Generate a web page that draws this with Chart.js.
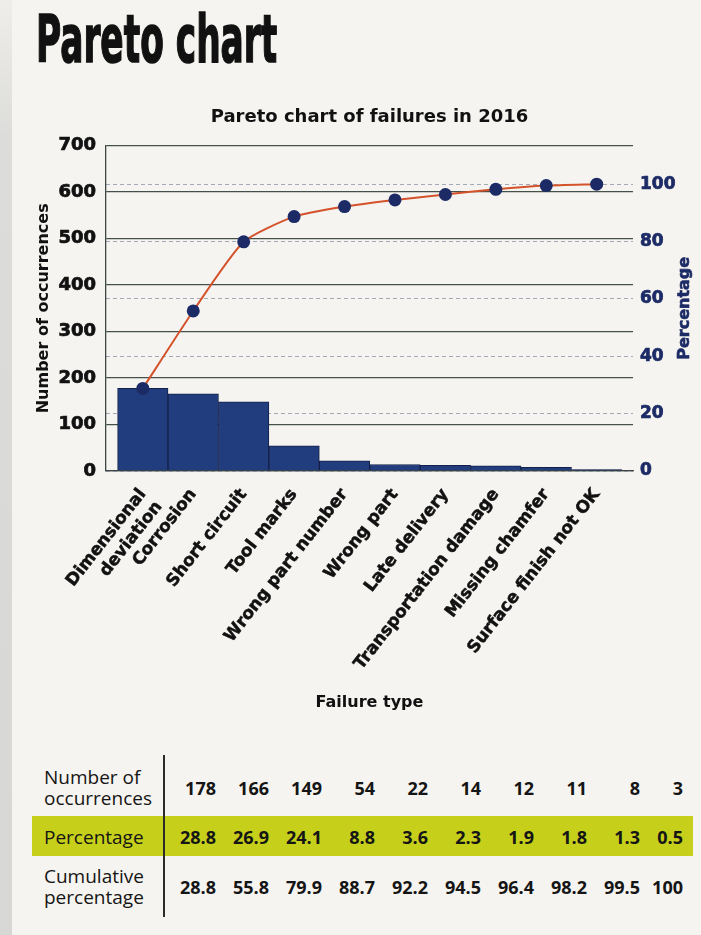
<!DOCTYPE html>
<html>
<head>
<meta charset="utf-8">
<title>Pareto chart</title>
<script src="https://cdn.jsdelivr.net/npm/chart.js@4.4.1/dist/chart.umd.min.js"></script>
<style>
  body {
    margin: 0;
    width: 701px;
    height: 935px;
    position: relative;
    overflow: hidden;
    background: #f5f4f0;
    font-family: "Open Sans", sans-serif;
  }
  .edge {
    position: absolute;
    left: 0;
    top: 0;
    width: 12px;
    height: 935px;
    background: linear-gradient(#eeede9, #dcdcda 15%, #d7d7d5);
  }
  h1 {
    position: absolute;
    left: 36px;
    top: 7px;
    margin: 0;
    font: bold 66px/1 "DejaVu Sans Condensed", "DejaVu Sans", sans-serif;
    color: #111;
    white-space: nowrap;
    transform-origin: 0 0;
    -webkit-text-stroke: 1.5px #111;
  }
  #wrap {
    position: absolute;
    left: 0;
    top: 0;
    width: 701px;
    height: 730px;
  }
  .band {
    position: absolute;
    left: 32px;
    top: 816px;
    width: 661px;
    height: 40px;
    background: #c6cf1a;
  }
  .divider {
    position: absolute;
    left: 163px;
    top: 755px;
    width: 1.5px;
    height: 162px;
    background: #2b2b2b;
  }
  table {
    position: absolute;
    left: 0;
    top: 765px;
    border-collapse: collapse;
    color: #151515;
  }
  td { padding: 0; vertical-align: middle; }
  td.label {
    width: 119px;
    padding-left: 44px;
    font-size: 19px;
    line-height: 21px;
  }
  td.val {
    width: 53px;
    text-align: right;
    font-size: 18px;
    font-weight: bold;
  }
  td.val:last-child { width: 43px; }
  tr.r0 { height: 46px; }
  tr.r1 { height: 52px; }
  tr.r2 { height: 48px; }
</style>
</head>
<body>
<div class="edge"></div>
<h1>Pareto chart</h1>
<div id="wrap"><canvas id="paretoChart"></canvas></div>
<div class="band"></div>
<div class="divider"></div>
<table id="summary"></table>

<script>
var failureTypes = [["Dimensional", "deviation"], "Corrosion", "Short circuit", "Tool marks", "Wrong part number",
    "Wrong part", "Late delivery", "Transportation damage", "Missing chamfer", "Surface finish not OK"];
var occurrences = [178, 166, 149, 54, 22, 14, 12, 11, 8, 3];
var percentage = [28.8, 26.9, 24.1, 8.8, 3.6, 2.3, 1.9, 1.8, 1.3, 0.5];
var cumulative = [28.8, 55.8, 79.9, 88.7, 92.2, 94.5, 96.4, 98.2, 99.5, 100];
var countTicks = [0, 100, 200, 300, 400, 500, 600, 700];
var percentTicks = [0, 20, 40, 60, 80, 100];

const navy = "#1c2b66";
const total = occurrences.reduce((a, b) => a + b, 0);
const countMax = countTicks[countTicks.length - 1];

// squeeze the heading into a tall condensed shape
const heading = document.querySelector("h1");
heading.style.transform = "scaleX(" + (241 / heading.offsetWidth) + ")";

// vertical title on the right reads bottom to top like the left one
const percentTitle = {
    id: "percentTitle",
    afterDraw(chart) {
        const ctx = chart.ctx;
        const area = chart.chartArea;
        ctx.save();
        ctx.translate(chart.scales.y1.right - 16, (area.top + area.bottom) / 2);
        ctx.rotate(-Math.PI / 2);
        ctx.font = "bold 16px 'DejaVu Sans'";
        ctx.fillStyle = navy;
        ctx.strokeStyle = navy;
        ctx.lineWidth = 0.6;
        ctx.textAlign = "center";
        ctx.textBaseline = "middle";
        ctx.fillText("Percentage", 0, 0);
        ctx.strokeText("Percentage", 0, 0);
        ctx.restore();
    }
};

Chart.defaults.font.family = "'DejaVu Sans', sans-serif";
Chart.defaults.color = "#111";

new Chart("paretoChart", {
    type: "bar",
    data: {
        datasets: [{
            type: "line",
            data: cumulative.map((v, i) => ({ x: i, y: v })),
            yAxisID: "y1",
            borderColor: "#d4532b",
            borderWidth: 2,
            tension: 0.2,
            pointRadius: 6.5,
            pointBackgroundColor: navy,
            pointBorderColor: navy,
            pointBorderWidth: 0,
            order: 0
        }, {
            data: occurrences.map((v, i) => ({ x: i, y: v })),
            yAxisID: "y",
            backgroundColor: "#213d7d",
            borderColor: "#14204a",
            borderWidth: 1,
            categoryPercentage: 1,
            barPercentage: 1,
            order: 1
        }]
    },
    options: {
        responsive: true,
        maintainAspectRatio: false,
        animation: false,
        layout: { padding: 0 },
        plugins: {
            legend: { display: false },
            tooltip: { enabled: false },
            title: {
                display: true,
                text: "Pareto chart of failures in 2016",
                fullSize: false,
                color: "#111",
                font: { size: 18, weight: "bold" },
                padding: { top: 107, bottom: 17 }
            }
        },
        scales: {
            x: {
                type: "linear",
                bounds: "data",
                min: -0.73,
                max: 9.72,
                offset: false,
                afterBuildTicks: (axis) => { axis.ticks = failureTypes.map((_, i) => ({ value: i })) },
                afterFit: (axis) => { axis.height = 259 },
                grid: { display: false },
                border: { color: "#3d4640", width: 1.3 },
                ticks: {
                    autoSkip: false,
                    minRotation: 52,
                    maxRotation: 52,
                    padding: 6,
                    color: "#111",
                    textStrokeColor: "#111",
                    textStrokeWidth: 0.5,
                    font: { size: 17, weight: "bold" },
                    callback: (v) => failureTypes[v]
                },
                title: {
                    display: true,
                    text: "Failure type",
                    color: "#111",
                    font: { size: 16, weight: "bold" },
                    padding: { top: 4, bottom: 18 }
                }
            },
            y: {
                position: "left",
                min: 0,
                max: countMax,
                afterBuildTicks: (axis) => { axis.ticks = countTicks.map((v) => ({ value: v })) },
                afterFit: (axis) => { axis.width = 106 },
                grid: { color: "#46504a", lineWidth: 1.3, drawTicks: false },
                border: { color: "#3d4640", width: 1.3 },
                ticks: {
                    padding: 10,
                    color: "#111",
                    textStrokeColor: "#111",
                    textStrokeWidth: 0.7,
                    font: { size: 18, weight: "bold" }
                },
                title: {
                    display: true,
                    text: "Number of occurrences",
                    color: "#111",
                    font: { size: 16, weight: "bold" },
                    padding: { top: 34, bottom: 0 }
                }
            },
            y1: {
                position: "right",
                bounds: "data",
                min: 0,
                max: countMax / total * 100,
                afterBuildTicks: (axis) => { axis.ticks = percentTicks.map((v) => ({ value: v })) },
                afterFit: (axis) => { axis.width = 68 },
                grid: { color: "#a3a9b8", lineWidth: 1, drawTicks: false },
                border: { display: false, dash: [4, 3] },
                ticks: {
                    padding: 7,
                    color: navy,
                    textStrokeColor: navy,
                    textStrokeWidth: 0.7,
                    font: { size: 17, weight: "bold" }
                }
            }
        }
    },
    plugins: [percentTitle]
});

// summary table under the chart
const rows = [
    { label: ["Number of", "occurrences"], values: occurrences },
    { label: ["Percentage"], values: percentage },
    { label: ["Cumulative", "percentage"], values: cumulative }
];
const table = document.getElementById("summary");
rows.forEach((row, r) => {
    const tr = document.createElement("tr");
    tr.className = "r" + r;
    const th = document.createElement("td");
    th.className = "label";
    th.innerHTML = row.label.join("<br>");
    tr.appendChild(th);
    row.values.forEach((v) => {
        const td = document.createElement("td");
        td.className = "val";
        td.textContent = String(v);
        tr.appendChild(td);
    });
    table.appendChild(tr);
});
</script>
</body>
</html>
